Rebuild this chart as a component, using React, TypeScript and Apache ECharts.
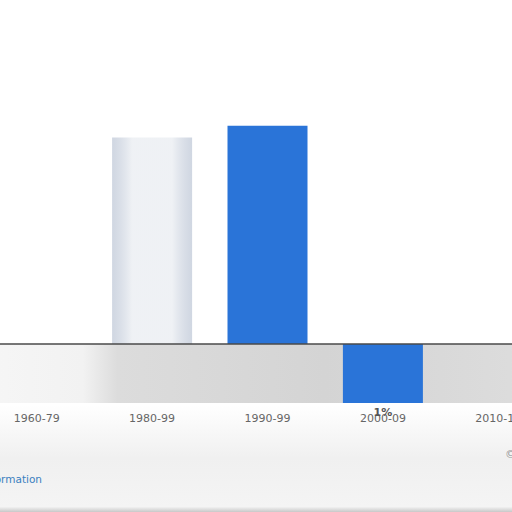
import React, { useEffect, useRef } from "react";
import * as echarts from "echarts";

const periods = ["1960-79", "1980-99", "1990-99", "2000-09", "2010-19"];
const growth = [null, 3.5, 3.7, -1.0, null];
const barLabels = ["", "", "", "1%", ""];

// the chart is wider than the window: the last category is cut at the right edge
const SHIFT = 21;

const App: React.FC = () => {
  const chartRef = useRef<HTMLDivElement>(null);

  useEffect(() => {
    if (chartRef.current) {
      const myChart = echarts.init(chartRef.current, undefined, { renderer: "svg" });

      const ghost = new echarts.graphic.LinearGradient(0, 0, 1, 0, [
        { offset: 0, color: "rgba(150,165,190,0.45)" },
        { offset: 0.25, color: "rgba(228,232,238,0.6)" },
        { offset: 0.75, color: "rgba(228,232,238,0.6)" },
        { offset: 1, color: "rgba(150,165,190,0.45)" },
      ]);

      const option: echarts.EChartsOption = {
        animation: false,
        backgroundColor: "#ffffff",
        grid: { left: 0, right: 0, top: 49, bottom: 109 },
        xAxis: {
          type: "category",
          data: periods,
          axisLine: { show: true, lineStyle: { color: "#d0d0d0", type: "dotted" } },
          axisTick: { show: false },
          axisLabel: {
            color: "#666",
            fontSize: 11,
            fontFamily: "DejaVu Sans",
            margin: 10,
          },
        },
        yAxis: {
          type: "value",
          min: -1,
          max: 5,
          show: false,
          splitLine: { show: false },
        },
        graphic: [
          {
            type: "rect",
            shape: { x: 0, y: 405, width: 577, height: 107 },
            style: {
              fill: new echarts.graphic.LinearGradient(0, 0, 0, 1, [
                { offset: 0, color: "#ffffff" },
                { offset: 0.5, color: "#f0f0f0" },
                { offset: 0.95, color: "#f4f4f4" },
                { offset: 1, color: "#c8c8c8" },
              ]),
            },
            z: -1,
          },
          {
            type: "text",
            x: SHIFT + 42,
            y: 473,
            style: {
              text: "Information",
              fill: "#3a7fc0",
              fontSize: 10.5,
              fontFamily: "DejaVu Sans",
              align: "right",
            },
          },
          {
            type: "text",
            x: SHIFT + 505,
            y: 449,
            style: { text: "©", fill: "#999", fontSize: 11, fontFamily: "DejaVu Sans" },
          },
        ],
        series: [
          {
            type: "bar",
            barWidth: 80,
            data: growth.map((v, i) => ({
              value: v,
              itemStyle: { color: i === 1 ? ghost : "#2a74d8" },
              label: {
                show: barLabels[i] !== "",
                position: "bottom",
                distance: 4,
                formatter: barLabels[i],
                color: "#555",
                fontSize: 11,
                fontWeight: "bold",
                fontFamily: "DejaVu Sans",
              },
            })),
            markArea: {
              silent: true,
              itemStyle: {
                color: new echarts.graphic.LinearGradient(0, 0, 1, 0, [
                  { offset: 0, color: "#f6f6f6" },
                  { offset: 0.18, color: "#f2f2f2" },
                  { offset: 0.24, color: "#dcdcdc" },
                  { offset: 0.6, color: "#d4d4d4" },
                  { offset: 1, color: "#dedede" },
                ]),
              },
              data: [[{ yAxis: -1 }, { yAxis: 0 }]],
            },
            markLine: {
              silent: true,
              symbol: "none",
              label: { show: false },
              lineStyle: { color: "#4a4a4a", type: "solid", width: 1.5 },
              data: [{ yAxis: 0 }],
            },
          },
        ],
      };

      myChart.setOption(option);

      return () => {
        myChart.dispose();
      };
    }
  }, []);

  return (
    <div style={{ position: "absolute", left: 0, top: 0, width: "512px", height: "512px", overflow: "hidden" }}>
      <div
        ref={chartRef}
        style={{ position: "absolute", left: `-${SHIFT}px`, top: 0, width: "577px", height: "512px" }}
      />
    </div>
  );
};

export default App;
